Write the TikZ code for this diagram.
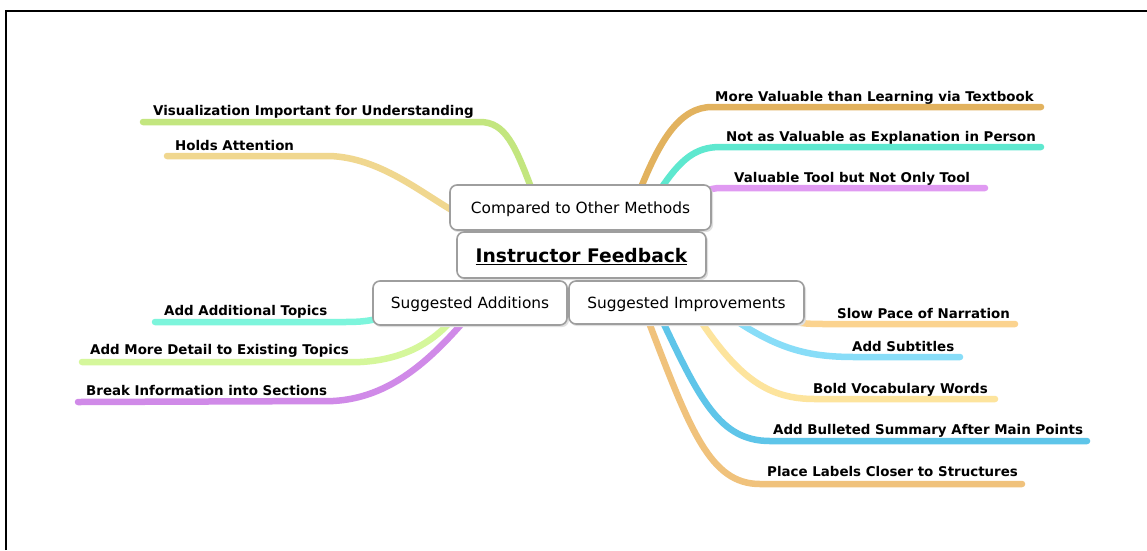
\documentclass[tikz,border=0pt]{standalone}
\usepackage{fontspec}
\setmainfont{DejaVu Sans}
\begin{document}
\begin{tikzpicture}[x=1pt,y=-1pt,
  branch/.style={line width=6.5pt,line cap=round},
  leaf/.style={font=\bfseries\fontsize{13.4}{15}\selectfont,inner sep=0pt,anchor=base west},
  box/.style={draw=black!38,line width=1.6pt,rounded corners=7pt,fill=white,
     font=\fontsize{15.4}{17}\selectfont,inner sep=0pt,align=center,text depth=0pt},
  shadow/.style={fill=black!12,rounded corners=7pt,draw=none}
]
\useasboundingbox (0,0) rectangle (1147,550);
\fill[white] (0,0) rectangle (1147,550);
% frame
\draw[line width=2pt] (6,550) -- (6,11) -- (1147,11);

% colours
\definecolor{cVis}{HTML}{C3E67F}
\definecolor{cHold}{HTML}{F0D78F}
\definecolor{cMore}{HTML}{E2B25E}
\definecolor{cNot}{HTML}{5EE8CF}
\definecolor{cTool}{HTML}{E09AF2}
\definecolor{cAddT}{HTML}{7DF5DC}
\definecolor{cDet}{HTML}{D5F79B}
\definecolor{cBrk}{HTML}{D08AE8}
\definecolor{cSlow}{HTML}{FBD38F}
\definecolor{cSub}{HTML}{88DDF8}
\definecolor{cBold}{HTML}{FDE49D}
\definecolor{cBul}{HTML}{5EC5E9}
\definecolor{cPlace}{HTML}{F0C27C}

% line end coordinates
\coordinate (eVis) at (143,122);
\coordinate (eHold) at (167,156);
\coordinate (eMore) at (1041,107);
\coordinate (eNot) at (1041,147);
\coordinate (eTool) at (985,188);
\coordinate (eAddT) at (155,322);
\coordinate (eDet) at (82,362);
\coordinate (eBrk) at (78,402);
\coordinate (eSlow) at (1015,324);
\coordinate (eSub) at (960,357);
\coordinate (eBold) at (995,399);
\coordinate (eBul) at (1087,441);
\coordinate (ePlace) at (1022,484);

% branch lines
\draw[branch,cVis] (eVis) -- (480,122) .. controls (505,122) and (515,145) .. (532,190);
\draw[branch,cHold] (eHold) -- (330,156) .. controls (380,158) and (420,192) .. (455,212);
\draw[branch,cMore] (640,190) .. controls (660,140) and (680,107) .. (712,107) -- (eMore);
\draw[branch,cNot] (660,190) .. controls (680,160) and (695,147) .. (720,147) -- (eNot);
\draw[branch,cTool] (705,192) .. controls (710,189) and (714,188) .. (722,188) -- (eTool);
\draw[branch,cAddT] (eAddT) -- (345,322) .. controls (360,322) and (370,321) .. (380,318);
\draw[branch,cDet] (eDet) -- (360,362) .. controls (400,360) and (430,345) .. (452,320);
\draw[branch,cBrk] (eBrk) -- (333,401) .. controls (390,398) and (430,360) .. (465,320);
\draw[branch,cSlow] (790,320) .. controls (800,324) and (810,324) .. (830,324) -- (eSlow);
\draw[branch,cSub] (735,320) .. controls (780,350) and (810,357) .. (855,357) -- (eSub);
\draw[branch,cBold] (700,320) .. controls (740,380) and (770,399) .. (815,399) -- (eBold);
\draw[branch,cBul] (662,320) .. controls (700,400) and (720,441) .. (770,441) -- (eBul);
\draw[branch,cPlace] (648,320) .. controls (690,430) and (710,484) .. (760,484) -- (ePlace);

% boxes
\fill[shadow] (451,187) rectangle (713,232);
\node[box,minimum width=261pt,minimum height=45pt] (cmp) at (580.5,207.5) {Compared to Other Methods};
\fill[shadow] (458,234) rectangle (708,280);
\node[box,minimum width=249pt,minimum height=46pt,font=\bfseries\fontsize{18.7}{20}\selectfont] (root) at (581.5,255) {\underline{Instructor Feedback}};
\fill[shadow] (374,283) rectangle (569,327);
\node[box,minimum width=194pt,minimum height=44pt] (add) at (470,303) {Suggested Additions};
\fill[shadow] (570,283) rectangle (806,326);
\node[box,minimum width=235pt,minimum height=43pt] (imp) at (686.5,302.5) {Suggested Improvements};

% leaf labels
\node[leaf] (lVis) at (153,115) {Visualization Important for Understanding};
\node[leaf] (lHold) at (175,150) {Holds Attention};
\node[leaf] (lMore) at (715,101) {More Valuable than Learning via Textbook};
\node[leaf] (lNot) at (726,141) {Not as Valuable as Explanation in Person};
\node[leaf] (lTool) at (734,182) {Valuable Tool but Not Only Tool};
\node[leaf] (lAddT) at (164,315) {Add Additional Topics};
\node[leaf] (lDet) at (90,354) {Add More Detail to Existing Topics};
\node[leaf] (lBrk) at (86,395) {Break Information into Sections};
\node[leaf] (lSlow) at (837,318) {Slow Pace of Narration};
\node[leaf] (lSub) at (852,351) {Add Subtitles};
\node[leaf] (lBold) at (813,393) {Bold Vocabulary Words};
\node[leaf] (lBul) at (773,434) {Add Bulleted Summary After Main Points};
\node[leaf] (lPlace) at (767,476) {Place Labels Closer to Structures};
\end{tikzpicture}
\end{document}
